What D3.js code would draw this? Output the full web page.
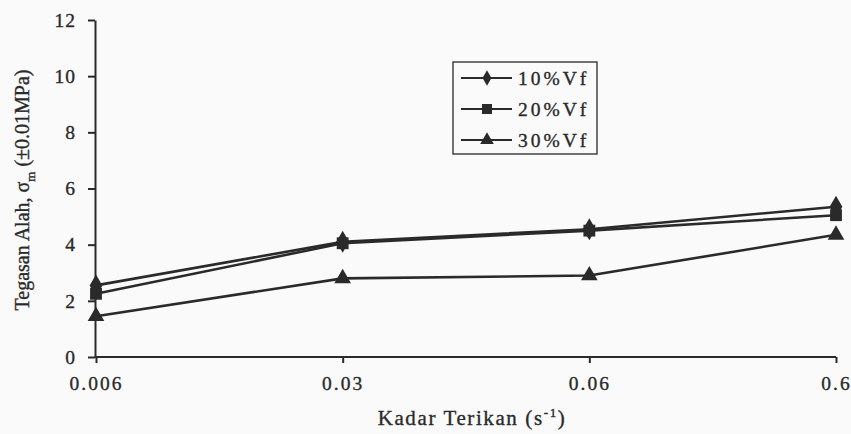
<!DOCTYPE html>
<html><head><meta charset="utf-8">
<script src="https://cdn.jsdelivr.net/npm/d3@7"></script>
<style>body{margin:0;background:#fafafa}svg{display:block}text{stroke:#2a2a2a;stroke-width:0.35px}</style>
</head><body>
<svg id="c" width="851" height="434"></svg>
<script>
const categories = ["0.006", "0.03", "0.06", "0.6"];
const seriesNames = ["10%Vf", "20%Vf", "30%Vf"];
const v10 = [2.55, 4.1, 4.55, 5.35];
const v20 = [2.25, 4.05, 4.5, 5.05];
const v30 = [1.45, 2.8, 2.9, 4.35];
const yTicks = [0, 2, 4, 6, 8, 10, 12];
const series = [
  {name: seriesNames[0], values: v10, sym: d3.symbolDiamond},
  {name: seriesNames[1], values: v20, sym: d3.symbolSquare},
  {name: seriesNames[2], values: v30, sym: d3.symbolTriangle}
];
const ink = "#2a2a2a";
const font = "'Liberation Serif','Times New Roman',serif";
const svg = d3.select("#c");
svg.append("rect").attr("width", 851).attr("height", 434).attr("fill", "#fafafa");
const x = d3.scalePoint().domain(categories).range([96, 836]);
const y = d3.scaleLinear().domain([0, 12]).range([357, 20]);

const yAxis = svg.append("g").attr("transform", "translate(95,0)")
  .call(d3.axisLeft(y).tickValues(yTicks).tickSize(7).tickPadding(12).tickSizeOuter(0));
const xAxis = svg.append("g").attr("transform", "translate(0,357)")
  .call(d3.axisBottom(x).tickSize(6).tickPadding(13).tickSizeOuter(0));
[yAxis, xAxis].forEach(g => {
  g.selectAll("path,line").attr("stroke", ink).attr("stroke-width", 2);
  g.selectAll("text").attr("fill", ink).style("font-family", font).style("font-size", "19.5px");
});
xAxis.selectAll("text").style("letter-spacing", "2px");
yAxis.selectAll("text").style("letter-spacing", "1px");
xAxis.select(".domain").attr("d", "M95,0H836");

const line = d3.line().x((d, i) => x(categories[i])).y(d => y(d));
series.forEach(s => {
  svg.append("path").attr("d", line(s.values)).attr("fill", "none")
    .attr("stroke", ink).attr("stroke-width", 2.6);
  svg.selectAll(null).data(s.values).enter().append("path")
    .attr("d", d3.symbol().type(s.sym).size(s.sym === d3.symbolTriangle ? 120 : 140))
    .attr("transform", (d, i) => `translate(${x(categories[i])},${y(d)})`)
    .attr("fill", ink);
});

// legend
const lg = svg.append("g");
lg.append("rect").attr("x", 453).attr("y", 62).attr("width", 144).attr("height", 92)
  .attr("fill", "#fafafa").attr("stroke", ink).attr("stroke-width", 1.3);
series.forEach((s, i) => {
  const yy = 78 + i * 31;
  lg.append("line").attr("x1", 461).attr("x2", 512).attr("y1", yy).attr("y2", yy)
    .attr("stroke", ink).attr("stroke-width", 2);
  lg.append("path").attr("d", d3.symbol().type(s.sym).size(s.sym === d3.symbolTriangle ? 80 : (s.sym === d3.symbolSquare ? 100 : 70)))
    .attr("transform", `translate(487,${yy})`).attr("fill", ink);
  lg.append("text").attr("x", 518).attr("y", yy + 7).text(s.name)
    .attr("fill", ink).style("font-family", font).style("font-size", "19.5px")
    .style("letter-spacing", "3px");
});

// axis titles
svg.append("text").attr("x", 472).attr("y", 425).attr("text-anchor", "middle")
  .attr("fill", ink).style("font-family", font).style("font-size", "21px").style("letter-spacing", "1.6px")
  .html('Kadar Terikan (s<tspan dy="-8" font-size="13">-1</tspan><tspan dy="8">)</tspan>');
svg.append("text").attr("transform", "translate(29,190) rotate(-90)").attr("text-anchor", "middle")
  .attr("fill", ink).style("font-family", font).style("font-size", "20px")
  .html('Tegasan Alah, σ<tspan dy="6" font-size="13">m</tspan><tspan dy="-6"> (±0.01MPa)</tspan>');
</script>
</body></html>
